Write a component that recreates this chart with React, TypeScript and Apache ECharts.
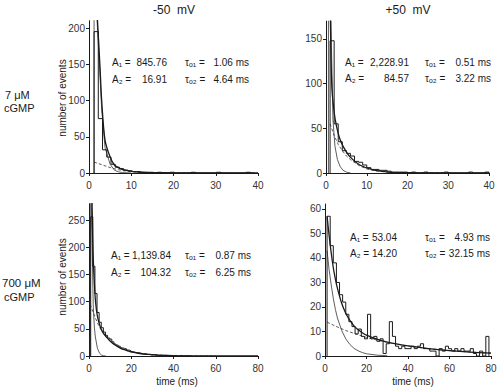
import { useEffect, useRef } from "react";
import * as echarts from "echarts";

// ---------- text ----------
const COL_TITLES = ["-50  mV", "+50  mV"];
const ROW_LABELS = [["7 μM", "cGMP"], ["700 μM", "cGMP"]];
const Y_NAME = "number of events";
const X_NAME = "time (ms)";

// fit parameters shown in each panel (TL, TR, BL, BR)
const A1_VALUES = ["845.76", "2,228.91", "1,139.84", "53.04"];
const A2_VALUES = ["16.91", "84.57", "104.32", "14.20"];
const TAU1_VALUES = ["1.06 ms", "0.51 ms", "0.87 ms", "4.93 ms"];
const TAU2_VALUES = ["4.64 ms", "3.22 ms", "6.25 ms", "32.15 ms"];

// ---------- axes ----------
const X_MAX = [40, 40, 80, 80];
const X_INTERVAL = [10, 10, 20, 20];
const Y_MAX = [210, 170, 280, 62];
const Y_INTERVAL = [50, 50, 50, 10];
const Y_TICKS = [
  [0, 50, 100, 150, 200],
  [0, 50, 100, 150],
  [0, 50, 100, 150, 200, 250],
  [0, 10, 20, 30, 40, 50, 60],
];

// ---------- histograms (first bin start, bin width in ms, counts) ----------
const HIST_START = [1.2, 1.0, 0.8, 1.0];
const HIST_WIDTH = [1, 1, 1, 1.5];
const histTL = [195, 75, 32, 22, 12, 8, 6, 4, 3, 2, 2, 1, 1, 1, 0, 1, 0, 0, 1, 0, 0, 0, 0, 1, 0, 0, 0, 0, 0, 1, 0, 0, 0, 0, 0, 0, 1, 0];
const histTR = [148, 55, 35, 25, 22, 19, 13, 12, 9, 6, 4, 4, 3, 3, 2, 1, 1, 1, 1, 0, 1, 0, 0, 1, 0, 0, 0, 0, 1, 0, 0, 0, 0, 0, 1, 0, 0, 0, 1];
const histBL = [256, 165, 115, 80, 62, 52, 44, 38, 33, 31, 26, 22, 20, 18, 15, 14, 13, 11, 10, 8, 7, 6, 6, 5, 4, 4, 3, 3, 2, 2, 2, 1, 1, 1, 1, 1, 0, 1, 0, 1, 0, 0, 1, 0, 0, 0, 1];
const histBR = [57, 45, 38, 30, 25, 22, 17, 14, 12, 9, 11, 8, 7, 17, 7, 8, 6, 7, 1, 5, 14, 8, 4, 3, 4, 3, 3, 4, 3, 4, 5, 3, 3, 2, 2, 0, 3, 2, 4, 3, 2, 3, 2, 3, 2, 2, 3, 1, 0, 2, 0, 8];
const HISTS = [histTL, histTR, histBL, histBR];

// ---------- fitted curves: [time ms, events] ----------
const sumTL = [[1.5, 260], [2, 211], [2.6, 147], [3, 100], [3.8, 45], [5, 22], [6, 11], [7.3, 6.4], [8.5, 4], [10.5, 2], [13, 1], [16, 0.5], [20, 0.2], [25, 0], [40, 0]];
const fastTL = [[1.2, 0], [1.2, 320], [2, 200], [2.6, 135], [3, 88], [3.8, 35], [5, 12], [6, 4], [7, 1.5], [8, 0.5], [10, 0]];
const slowTL = [[1.2, 15], [2, 13.5], [3, 11.5], [4, 9.5], [5, 7.5], [6, 6], [7, 4.5], [8, 3.3], [10, 1.8], [12, 1], [15, 0.4], [20, 0.1], [25, 0]];

const sumTR = [[0.8, 320], [1.0, 200], [1.4, 100], [2.0, 68], [2.6, 52], [3.4, 38], [4.3, 29], [5.9, 18], [8.3, 9], [11.6, 3.4], [15.7, 0.8], [20, 0.3], [25, 0], [40, 0]];
const fastTR = [[0.6, 0], [0.6, 400], [1.0, 250], [1.3, 150], [1.7, 60], [2.2, 30], [2.8, 15], [3.5, 7], [4.2, 3], [5, 1], [6, 0]];
const slowTR = [[1.0, 55], [2, 42], [3, 32], [4, 25], [5, 19], [6, 15], [8, 8.5], [10, 4.5], [12, 2.5], [15, 1], [20, 0.3], [30, 0]];

const sumBL = [[1.2, 330], [1.5, 270], [2.0, 180], [2.8, 115], [3.5, 85], [4.4, 66], [5.5, 52], [6.8, 42], [8, 36], [10, 27.5], [12, 21], [15, 14], [18, 10], [20, 7.5], [24, 4.6], [28, 2.8], [33, 1.6], [40, 0.6], [50, 0.1], [60, 0], [80, 0]];
const fastBL = [[0.6, 0], [0.6, 500], [1.0, 300], [1.5, 200], [2.0, 94], [2.5, 55], [3, 35], [4, 14], [5, 5], [6, 1.5], [7, 0.3], [8, 0]];
const slowBL = [[0.6, 95], [1, 90], [2, 80], [3, 70], [4, 61], [5, 53], [6, 46], [8, 35], [10, 27], [12, 21], [15, 14], [20, 7.5], [25, 4], [30, 2], [40, 0.6], [50, 0.1], [60, 0]];

const sumBR = [[1, 57], [2, 49], [3, 42], [4, 36], [5, 31.4], [6, 27.6], [8, 21.6], [10, 17.4], [12, 14.5], [14, 12.3], [16, 10.7], [18, 9.5], [20, 8.5], [25, 6.9], [30, 5.7], [35, 4.8], [40, 4.1], [50, 3], [60, 2.2], [70, 1.6], [80, 1.2]];
const fastBR = [[1, 43], [2, 35], [3, 29], [4, 23.5], [5, 19], [6, 15.5], [8, 10.5], [10, 7], [12, 4.7], [14, 3.1], [16, 2.1], [18, 1.4], [20, 0.9], [25, 0.35], [30, 0.1]];
const slowBR = [[1, 13.8], [5, 12.2], [10, 10.4], [15, 8.9], [20, 7.6], [25, 6.5], [30, 5.6], [35, 4.8], [40, 4.1], [45, 3.5], [50, 3.0], [55, 2.6], [60, 2.2], [65, 1.9], [70, 1.6], [75, 1.4], [80, 1.2]];

const SUMS = [sumTL, sumTR, sumBL, sumBR];
const FASTS = [fastTL, fastTR, fastBL, fastBR];
const SLOWS = [slowTL, slowTR, slowBL, slowBR];

// ---------- layout (pixels) ----------
const GRIDS = [
  { left: 89, top: 20.75, width: 169, height: 152.25 },
  { left: 326, top: 21.1, width: 163, height: 151.9 },
  { left: 89, top: 203.7, width: 169, height: 152.3 },
  { left: 325, top: 204, width: 166, height: 152 },
];
const PARAM_POS = [
  { aL: 112, aR: 167, tL: 185, tR: 249, y1: 62, y2: 79 },
  { aL: 345, aR: 409, tL: 425, tR: 491, y1: 62, y2: 78 },
  { aL: 111, aR: 171, tL: 185, tR: 251, y1: 255, y2: 272 },
  { aL: 350, aR: 397, tL: 425, tR: 490, y1: 237, y2: 253 },
];

const FONT = "'Liberation Sans', Arial, sans-serif";
const INK = "#1a1a1a";

function histSteps(start: number, width: number, counts: number[]) {
  const pts: number[][] = [[start, 0]];
  counts.forEach((c, i) => pts.push([+(start + i * width).toFixed(3), c]));
  pts.push([+(start + counts.length * width).toFixed(3), 0]);
  return pts;
}

function txt(text: string, x: number, y: number, size: number, align = "left", extra: any = {}) {
  return {
    type: "text",
    x,
    y,
    silent: true,
    ...extra,
    style: {
      text,
      fontSize: size,
      fontFamily: FONT,
      fill: INK,
      align,
      textAlign: align,
      verticalAlign: "middle",
      textVerticalAlign: "middle",
    },
  };
}

export default function App() {
  const ref = useRef<HTMLDivElement>(null);
  useEffect(() => {
    if (!ref.current) return;
    const chart = echarts.init(ref.current, undefined, { renderer: "svg" });

    const axisLine = { show: true, lineStyle: { color: INK, width: 1 } };
    const axisLabel = { color: "#333", fontSize: 10, fontFamily: FONT };

    const xAxis = GRIDS.map((_, i) => ({
      type: "value",
      gridIndex: i,
      min: 0,
      max: X_MAX[i],
      interval: X_INTERVAL[i],
      axisLine: { ...axisLine, onZero: false },
      axisTick: { show: true, length: 3, lineStyle: { color: INK } },
      axisLabel: { ...axisLabel, margin: 7 },
      splitLine: { show: false },
    }));
    const yAxis = GRIDS.map((_, i) => ({
      type: "value",
      gridIndex: i,
      min: 0,
      max: Y_MAX[i],
      interval: Y_INTERVAL[i],
      axisLine: { ...axisLine, onZero: false },
      axisTick: { show: true, length: 3, lineStyle: { color: INK }, customValues: Y_TICKS[i] },
      axisLabel: {
        ...axisLabel,
        margin: 4,
        customValues: Y_TICKS[i],
        formatter: (v: number) => (Y_TICKS[i].includes(v) ? String(v) : ""),
      },
      splitLine: { show: false },
    }));

    const series: any[] = [];
    GRIDS.forEach((_, i) => {
      const base = {
        type: "line",
        xAxisIndex: i,
        yAxisIndex: i,
        showSymbol: false,
        symbol: "none",
        clip: true,
        silent: true,
      };
      series.push({
        ...base,
        data: SLOWS[i],
        lineStyle: { color: "#333", width: 0.8, type: [3, 2] },
      });
      series.push({
        ...base,
        data: FASTS[i],
        lineStyle: { color: "#333", width: 0.8 },
      });
      series.push({
        ...base,
        data: histSteps(HIST_START[i], HIST_WIDTH[i], HISTS[i]),
        step: "end",
        lineStyle: { color: INK, width: 1 },
      });
      series.push({
        ...base,
        data: SUMS[i],
        smooth: 0.3,
        lineStyle: { color: INK, width: 1.3 },
      });
    });

    const P = 10;
    const graphic: any[] = [];
    graphic.push(txt(COL_TITLES[0], 174, 10, 12, "center"));
    graphic.push(txt(COL_TITLES[1], 408, 10, 12, "center"));
    graphic.push(txt(ROW_LABELS[0][0], 5, 95, 11));
    graphic.push(txt(ROW_LABELS[0][1], 4, 108, 11));
    graphic.push(txt(ROW_LABELS[1][0], 2, 283, 11.5));
    graphic.push(txt(ROW_LABELS[1][1], 4, 297, 11));
    graphic.push(txt(Y_NAME, 62, 98, 10, "center", { rotation: Math.PI / 2 }));
    graphic.push(txt(Y_NAME, 62, 277, 10, "center", { rotation: Math.PI / 2 }));
    graphic.push(txt(X_NAME, 177, 381, 10, "center"));
    graphic.push(txt(X_NAME, 413, 381, 10, "center"));

    PARAM_POS.forEach((p, i) => {
      graphic.push(txt("A₁ =", p.aL, p.y1, P));
      graphic.push(txt(A1_VALUES[i], p.aR, p.y1, P, "right"));
      graphic.push(txt("A₂ =", p.aL, p.y2, P));
      graphic.push(txt(A2_VALUES[i], p.aR, p.y2, P, "right"));
      graphic.push(txt("τₒ₁ =", p.tL, p.y1, P));
      graphic.push(txt(TAU1_VALUES[i], p.tR, p.y1, P, "right"));
      graphic.push(txt("τₒ₂ =", p.tL, p.y2, P));
      graphic.push(txt(TAU2_VALUES[i], p.tR, p.y2, P, "right"));
    });

    chart.setOption({
      animation: false,
      backgroundColor: "#ffffff",
      grid: GRIDS.map((g) => ({ ...g, containLabel: false })),
      xAxis,
      yAxis,
      series,
      graphic,
    });
    return () => chart.dispose();
  }, []);

  return <div ref={ref} style={{ width: 500, height: 387, position: "absolute", left: 0, top: 0 }} />;
}
